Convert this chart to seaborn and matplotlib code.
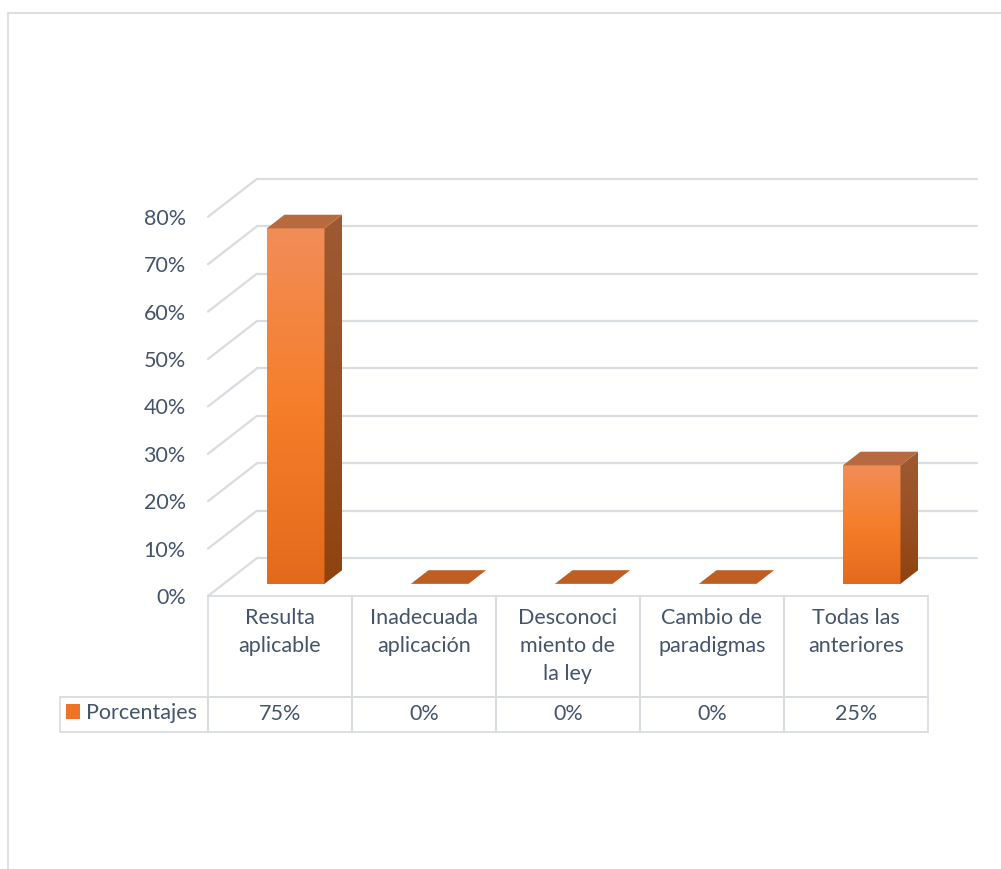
import numpy as np
import pandas as pd
import matplotlib
matplotlib.use("Agg")
import matplotlib.pyplot as plt
import matplotlib.transforms as mtransforms
from matplotlib.patches import Polygon, Rectangle
from matplotlib.colors import LinearSegmentedColormap
import seaborn as sns

# ---------------- data ----------------
categories = ["Resulta aplicable", "Inadecuada aplicación", "Desconocimiento de la ley",
              "Cambio de paradigmas", "Todas las anteriores"]
table_labels = ["Resulta\naplicable\n ", "Inadecuada\naplicación\n ", "Desconoci\nmiento de\nla ley",
                "Cambio de\nparadigmas\n ", "Todas las\nanteriores\n "]
values = [75, 0, 0, 0, 25]
value_labels = ["75%", "0%", "0%", "0%", "25%"]
yticks = [0, 10, 20, 30, 40, 50, 60, 70, 80]
ytick_labels = ["0%", "10%", "20%", "30%", "40%", "50%", "60%", "70%", "80%"]
series_name = "Porcentajes"

# ---------------- style ----------------
W, H, DPI = 1001, 869, 100
TEXT = "#44546A"
GRID = "#D9DCE1"
sns.set_theme(style="white")
plt.rcParams["font.family"] = ["Lato", "DejaVu Sans"]
FS = 15.5

# depth of the 3D floor in data units (category units, percentage units)
DX, DY = 0.34, 8.0
D0, D1 = 0.32, 0.68  # bar depth range

fig = plt.figure(figsize=(W / DPI, H / DPI), dpi=DPI)
fig.patch.set_facecolor("white")

# outer chart border
fig.add_artist(Rectangle((8 / W, -0.01), 1.02, (H - 13) / H + 0.01, transform=fig.transFigure,
                         fill=False, edgecolor=GRID, lw=1.3))

px_cat = 144.0
px_pct = 4.74
x_left, y_front0 = 208, 596
xlim = (-0.5, 4.5 + DX)
ylim = (0, 90)
ax_w = (xlim[1] - xlim[0]) * px_cat
ax_h = (ylim[1] - ylim[0]) * px_pct
ax = fig.add_axes([x_left / W, (H - y_front0) / H, ax_w / W, ax_h / H])

df = pd.DataFrame({"cat": categories, "val": values})
sns.barplot(data=df, x="cat", y="val", ax=ax, width=0.4, color="#EE7326",
            saturation=1, label=series_name, zorder=3)
ax.set_xlim(*xlim)
ax.set_ylim(*ylim)

# back wall gridlines and left wall diagonals
for v in yticks:
    ax.plot([xlim[0] + DX, xlim[1]], [v + DY, v + DY], color=GRID, lw=1.6, zorder=1, clip_on=False)
    ax.plot([xlim[0], xlim[0] + DX], [v, v + DY], color=GRID, lw=1.6, zorder=1, clip_on=False)

front_cmap = LinearSegmentedColormap.from_list("f", ["#E46A1B", "#F57E2A", "#F28D58"])
side_cmap = LinearSegmentedColormap.from_list("s", ["#8F430F", "#9B5024", "#9E5A32"])

fx, fy = D0 * DX, D0 * DY
sx, sy = (D1 - D0) * DX, (D1 - D0) * DY
shift = mtransforms.Affine2D().translate(fx * px_cat, fy * px_pct)
for p in list(ax.patches):
    x0, w, h = p.get_x(), p.get_width(), p.get_height()
    x1 = x0 + w
    p.set_transform(ax.transData + shift)
    p.set_edgecolor("none")
    if h > 0:
        grad = np.linspace(0, 1, 256).reshape(-1, 1)
        im = ax.imshow(grad, cmap=front_cmap, origin="lower", aspect="auto",
                       extent=[x0 + fx, x1 + fx, fy, h + fy], zorder=3.1)
        im.set_clip_path(p)
        side = Polygon([(x1 + fx, fy), (x1 + fx + sx, fy + sy), (x1 + fx + sx, h + fy + sy),
                        (x1 + fx, h + fy)], closed=True, facecolor="none", edgecolor="none", zorder=3)
        ax.add_patch(side)
        im2 = ax.imshow(grad, cmap=side_cmap, origin="lower", aspect="auto",
                        extent=[x1 + fx, x1 + fx + sx, fy, h + fy + sy], zorder=3.1)
        im2.set_clip_path(side)
        top_color = "#B76A3F"
    else:
        top_color = "#BE5E22"
    top = Polygon([(x0 + fx, h + fy), (x1 + fx, h + fy), (x1 + fx + sx, h + fy + sy),
                   (x0 + fx + sx, h + fy + sy)], closed=True, facecolor=top_color,
                  edgecolor="none", zorder=3.2)
    ax.add_patch(top)

ax.set_xlim(*xlim)
ax.set_ylim(*ylim)

# axes cosmetics
for s in ax.spines.values():
    s.set_visible(False)
ax.set_xticks([])
ax.set_xlabel("")
ax.set_ylabel("")
ax.set_yticks(yticks)
ax.set_yticklabels(ytick_labels, fontsize=FS, color=TEXT)
ax.tick_params(axis="y", length=0, pad=16)
ax.grid(False)
ax.set_facecolor("none")

# data table (bbox covers the data grid only; the row-label column hangs to the left)
col_px, lab_px = 144.0, 148.0
head_px, row_px = 101.0, 35.0
grid_w = 5 * col_px
tbl_h = head_px + row_px
bbox = [0, -tbl_h / ax_h, grid_w / ax_w, tbl_h / ax_h]
tbl = ax.table(cellText=[value_labels], colLabels=table_labels, rowLabels=[""],
               cellLoc="center", rowLoc="left", bbox=bbox)
tbl._autoColumns = []
tbl.auto_set_font_size(False)
tbl.set_fontsize(FS)
for (r, c), cell in tbl.get_celld().items():
    cell.set_edgecolor(GRID)
    cell.set_linewidth(1.3)
    cell.get_text().set_color(TEXT)
    cell.get_text().set_fontsize(FS)
    cell.set_width((lab_px if c == -1 else col_px) / ax_w)
    cell.set_height((head_px if r == 0 else row_px) / ax_h)
    cell.set_facecolor("none")
    if r == 0:
        cell.get_text().set_linespacing(1.5)

leg = ax.legend(loc="center left", bbox_to_anchor=(66 / W, (H - 713) / H),
                bbox_transform=fig.transFigure, frameon=False, fontsize=FS,
                handlelength=0.65, handleheight=0.65, handletextpad=0.3, borderpad=0,
                borderaxespad=0)
for t in leg.get_texts():
    t.set_color(TEXT)
for hdl in leg.legend_handles:
    hdl.set_facecolor("#EE7326")

fig.savefig("out.png", dpi=DPI, facecolor="white")
